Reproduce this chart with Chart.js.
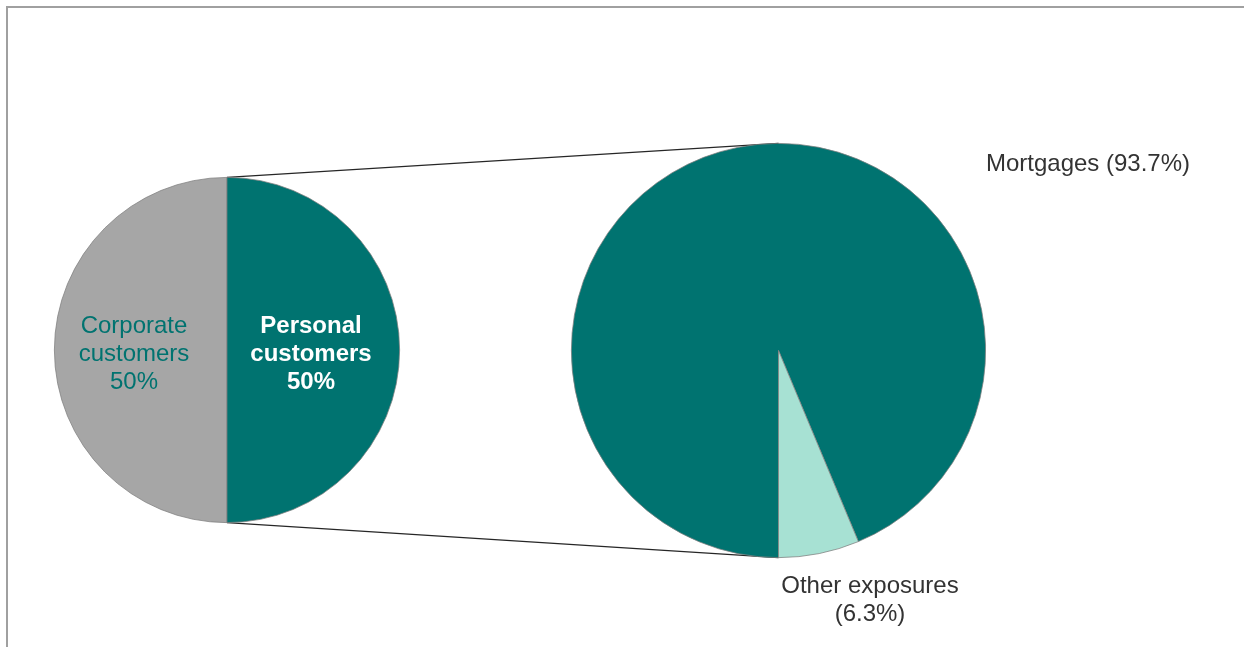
<!DOCTYPE html>
<html>
<head>
<meta charset="utf-8">
<script src="https://cdn.jsdelivr.net/npm/chart.js@4"></script>
<style>
  html, body { margin: 0; padding: 0; background: #fff; }
  body { width: 1244px; height: 647px; position: relative; overflow: hidden; font-family: "Liberation Sans", Arial, sans-serif; }
  .frame { position: absolute; left: 6px; top: 6px; width: 1300px; height: 700px; border-top: 2px solid #a0a0a0; border-left: 2px solid #a0a0a0; }
  .box { position: absolute; }
  #links { position: absolute; left: 0; top: 0; }
  .lbl { position: absolute; font-size: 24px; line-height: 28px; text-align: center; white-space: nowrap; }
</style>
</head>
<body>
<div class="frame"></div>
<canvas id="links" width="1244" height="647"></canvas>
<div class="box" style="left:53px; top:176px; width:348px; height:348px;"><canvas id="splitChart"></canvas></div>
<div class="box" style="left:570px; top:142px; width:417px; height:417px;"><canvas id="personalChart"></canvas></div>

<div class="lbl" style="left:54px; top:311px; width:160px; color:#007370;">Corporate<br>customers<br>50%</div>
<div class="lbl" style="left:231px; top:311px; width:160px; color:#ffffff; font-weight:bold;">Personal<br>customers<br>50%</div>
<div class="lbl" style="left:968px; top:149px; width:240px; color:#333333;">Mortgages (93.7%)</div>
<div class="lbl" style="left:750px; top:571px; width:240px; color:#333333;">Other exposures<br>(6.3%)</div>

<script>
// customer split (left pie)
const splitLabels = ['Corporate customers', 'Personal customers'];
const splitValues = [50, 50];
// breakdown of personal customers (right pie)
const personalLabels = ['Mortgages', 'Other exposures'];
const personalValues = [93.7, 6.3];

const TEAL = '#007370';
const GREY = '#a6a6a6';
const MINT = '#a7e1d3';

const baseOptions = {
  responsive: true,
  maintainAspectRatio: false,
  animation: false,
  rotation: 180,
  layout: { padding: 1 },
  plugins: { legend: { display: false }, tooltip: { enabled: false } }
};

const splitChart = new Chart(document.getElementById('splitChart'), {
  type: 'pie',
  data: {
    labels: splitLabels,
    datasets: [{
      data: splitValues,
      backgroundColor: [GREY, TEAL],
      borderColor: '#7f7f7f',
      borderWidth: 0.75
    }]
  },
  options: baseOptions
});

const personalChart = new Chart(document.getElementById('personalChart'), {
  type: 'pie',
  data: {
    labels: personalLabels,
    datasets: [{
      data: personalValues,
      backgroundColor: [TEAL, MINT],
      borderColor: '#7f7f7f',
      borderWidth: 0.75
    }]
  },
  options: baseOptions
});

// connector lines from top/bottom of the left pie to top/bottom of the right pie
const arcPos = (chart) => {
  const arc = chart.getDatasetMeta(0).data[0];
  const rect = chart.canvas.getBoundingClientRect();
  return { x: rect.left + arc.x, y: rect.top + arc.y, r: arc.outerRadius };
};

const a = arcPos(splitChart);
const b = arcPos(personalChart);
const ctx = document.getElementById('links').getContext('2d');
ctx.strokeStyle = '#262626';
ctx.lineWidth = 1.5;
ctx.beginPath();
ctx.moveTo(a.x, a.y - a.r);
ctx.lineTo(b.x, b.y - b.r);
ctx.moveTo(a.x, a.y + a.r);
ctx.lineTo(b.x, b.y + b.r);
ctx.stroke();
</script>
</body>
</html>
